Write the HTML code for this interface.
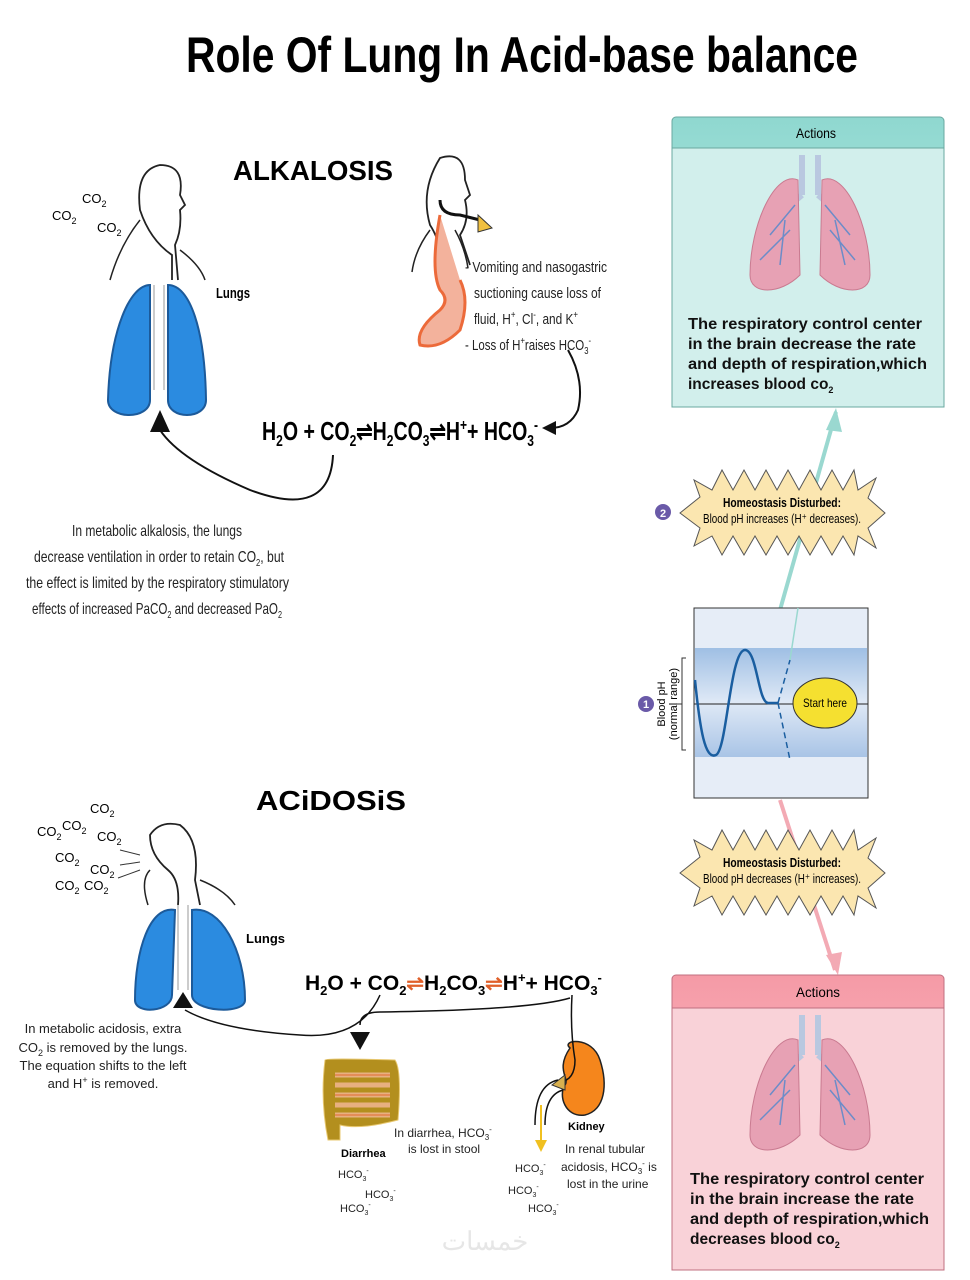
<!DOCTYPE html>
<html><head><meta charset="utf-8"><style>
html,body{margin:0;padding:0;background:#fff}
svg{display:block}
</style></head><body>
<svg width="970" height="1280" viewBox="0 0 970 1280" xmlns="http://www.w3.org/2000/svg" font-family="Liberation Sans, sans-serif">
<defs>
<linearGradient id="band" x1="0" y1="0" x2="0" y2="1"><stop offset="0" stop-color="#9fbfe4"/><stop offset="0.5" stop-color="#dfe9f6"/><stop offset="1" stop-color="#a9c4e6"/></linearGradient>
<linearGradient id="tl" x1="0" y1="0" x2="0" y2="1"><stop offset="0" stop-color="#8fd8d0"/><stop offset="1" stop-color="#c9ede9"/></linearGradient>
<linearGradient id="pk" x1="0" y1="0" x2="0" y2="1"><stop offset="0" stop-color="#f59aa6"/><stop offset="1" stop-color="#fbd4da"/></linearGradient>
<g id="plung">
<path d="M-8,-60 L-8,-20 M8,-60 L8,-20 M-8,-20 Q-20,-10 -30,0 M8,-20 Q20,-10 30,0" stroke="#b9c8e0" stroke-width="6" fill="none"/>
<path d="M-12,-35 C-35,-45 -60,10 -60,60 C-60,80 -30,80 -10,60 Z" fill="#e7a1b4" stroke="#c97a90"/>
<path d="M12,-35 C35,-45 60,10 60,60 C60,80 30,80 10,60 Z" fill="#e7a1b4" stroke="#c97a90"/>
<path d="M-15,-10 L-40,20 M-25,5 L-30,50 M15,-10 L40,20 M25,5 L35,50 M-20,15 L-50,45 M20,15 L45,45" stroke="#6c8cc8" stroke-width="1.5" fill="none"/>
</g>
</defs>

<text x="522" y="72" text-anchor="middle" font-size="50" font-weight="bold" textLength="672" lengthAdjust="spacingAndGlyphs">Role Of Lung In Acid-base balance</text>

<text x="233" y="180" font-size="28" font-weight="bold" textLength="160" lengthAdjust="spacingAndGlyphs">ALKALOSIS</text>
<path d="M172,280 L172,255 Q150,240 140,210 Q135,170 160,165 Q185,165 180,195 L185,205 L180,210 Q182,230 175,245 L178,280" fill="none" stroke="#222" stroke-width="1.8"/>
<path d="M140,220 Q120,245 110,280 M180,250 Q200,265 205,280" fill="none" stroke="#222" stroke-width="1.5"/>
<g font-size="13"><text x="82" y="203">CO<tspan font-size="9" dy="4">2</tspan></text><text x="52" y="220">CO<tspan font-size="9" dy="4">2</tspan></text><text x="97" y="232">CO<tspan font-size="9" dy="4">2</tspan></text></g>
<path d="M150,285 C130,285 110,330 108,400 C108,420 150,420 150,400 Z" fill="#2b8be0" stroke="#1c5a9a" stroke-width="2"/>
<path d="M168,285 C190,285 205,330 206,400 C206,420 168,420 168,400 Z" fill="#2b8be0" stroke="#1c5a9a" stroke-width="2"/>
<path d="M154,285 L154,390 M164,285 L164,390" stroke="#ccc" stroke-width="2"/>
<text x="216" y="298" font-size="15" font-weight="bold" textLength="34" lengthAdjust="spacingAndGlyphs">Lungs</text>
<path d="M333,455 Q330,520 250,490 Q180,460 160,430" fill="none" stroke="#111" stroke-width="2"/>
<polygon points="160,410 150,432 170,432" fill="#111"/>
<path d="M445,270 Q440,240 430,225 Q420,190 440,158 Q465,150 465,180 L470,195 L465,200 Q470,220 460,235 L470,265" fill="none" stroke="#222" stroke-width="1.8"/>
<path d="M430,230 Q415,250 412,272 M455,230 Q465,248 468,268" fill="none" stroke="#222" stroke-width="1.5"/>
<path d="M440,200 Q440,215 460,215 L480,220" fill="none" stroke="#111" stroke-width="3"/>
<polygon points="478,215 492,228 478,232" fill="#f0c040" stroke="#333"/>
<path d="M440,215 Q430,270 440,290 Q450,300 440,310 Q415,330 420,345 Q440,350 460,330 Q470,300 460,280" fill="#f3b29c" stroke="#ec6a3a" stroke-width="3"/>
<g font-size="15" fill="#222" lengthAdjust="spacingAndGlyphs">
<text x="465" y="272" textLength="142" lengthAdjust="spacingAndGlyphs">- Vomiting and nasogastric</text>
<text x="474" y="298" textLength="127" lengthAdjust="spacingAndGlyphs">suctioning cause loss of</text>
<text x="474" y="324" textLength="104" lengthAdjust="spacingAndGlyphs">fluid, H<tspan font-size="10" dy="-6">+</tspan><tspan dy="6">, Cl</tspan><tspan font-size="10" dy="-6">-</tspan><tspan dy="6">, and K</tspan><tspan font-size="10" dy="-6">+</tspan></text>
<text x="465" y="350" textLength="126" lengthAdjust="spacingAndGlyphs">- Loss of H<tspan font-size="10" dy="-6">+</tspan><tspan dy="6">raises HCO</tspan><tspan font-size="10" dy="4">3</tspan><tspan font-size="10" dy="-10">-</tspan></text>
</g>
<path d="M568,350 Q585,380 578,410 Q570,428 550,428" fill="none" stroke="#111" stroke-width="2"/>
<polygon points="542,428 556,421 556,435" fill="#111"/>
<text x="262" y="440" font-size="26" font-weight="bold" textLength="276" lengthAdjust="spacingAndGlyphs">H<tspan font-size="16" dy="6">2</tspan><tspan dy="-6">O + CO</tspan><tspan font-size="16" dy="6">2</tspan><tspan dy="-6">⇌H</tspan><tspan font-size="16" dy="6">2</tspan><tspan dy="-6">CO</tspan><tspan font-size="16" dy="6">3</tspan><tspan dy="-6">⇌H</tspan><tspan font-size="16" dy="-10">+</tspan><tspan dy="10">+ HCO</tspan><tspan font-size="16" dy="6">3</tspan><tspan font-size="16" dy="-16">-</tspan></text>
<g font-size="16" fill="#222">
<text x="72" y="536" textLength="170" lengthAdjust="spacingAndGlyphs">In metabolic alkalosis, the lungs</text>
<text x="34" y="562" textLength="250" lengthAdjust="spacingAndGlyphs">decrease ventilation in order to retain CO<tspan font-size="10" dy="4">2</tspan><tspan dy="-4">, but</tspan></text>
<text x="26" y="588" textLength="263" lengthAdjust="spacingAndGlyphs">the effect is limited by the respiratory stimulatory</text>
<text x="32" y="614" textLength="250" lengthAdjust="spacingAndGlyphs">effects of increased PaCO<tspan font-size="10" dy="4">2</tspan><tspan dy="-4"> and decreased PaO</tspan><tspan font-size="10" dy="4">2</tspan></text>
</g>

<text x="256" y="810" font-size="28" font-weight="bold" textLength="150" lengthAdjust="spacingAndGlyphs">ACiDOSiS</text>
<g font-size="13"><text x="90" y="813">CO<tspan font-size="9" dy="4">2</tspan></text><text x="37" y="836">CO<tspan font-size="9" dy="4">2</tspan></text><text x="62" y="830">CO<tspan font-size="9" dy="4">2</tspan></text><text x="97" y="841">CO<tspan font-size="9" dy="4">2</tspan></text><text x="55" y="862">CO<tspan font-size="9" dy="4">2</tspan></text><text x="90" y="874">CO<tspan font-size="9" dy="4">2</tspan></text><text x="55" y="890">CO<tspan font-size="9" dy="4">2</tspan></text><text x="84" y="890">CO<tspan font-size="9" dy="4">2</tspan></text></g>
<path d="M120,850 L140,855 M120,865 L140,862 M118,878 L140,870" stroke="#333" stroke-width="1"/>
<path d="M178,905 Q180,880 168,870 Q150,855 150,835 Q160,820 180,825 Q200,840 195,880 L200,905" fill="none" stroke="#222" stroke-width="1.8"/>
<path d="M148,905 Q140,880 150,870 M200,880 Q225,890 235,905" fill="none" stroke="#222" stroke-width="1.5"/>
<path d="M175,910 C150,905 135,950 135,1000 C135,1015 172,1012 172,995 Z" fill="#2b8be0" stroke="#1c5a9a" stroke-width="2"/>
<path d="M192,910 C220,905 245,950 245,1000 C245,1015 192,1012 192,995 Z" fill="#2b8be0" stroke="#1c5a9a" stroke-width="2"/>
<path d="M178,905 L178,990 M188,905 L188,990" stroke="#ccc" stroke-width="2"/>
<text x="246" y="943" font-size="13" font-weight="bold">Lungs</text>
<path d="M380,995 Q360,1040 300,1035 Q220,1030 185,1010" fill="none" stroke="#111" stroke-width="1.5"/>
<polygon points="183,992 173,1008 193,1008" fill="#111"/>
<g font-size="13" fill="#222" text-anchor="middle">
<text x="103" y="1033">In metabolic acidosis, extra</text>
<text x="103" y="1052">CO<tspan font-size="9" dy="4">2</tspan><tspan dy="-4"> is removed by the lungs.</tspan></text>
<text x="103" y="1070">The equation shifts to the left</text>
<text x="103" y="1088">and H<tspan font-size="9" dy="-5">+</tspan><tspan dy="5"> is removed.</tspan></text>
</g>
<text x="305" y="990" font-size="21" font-weight="bold">H<tspan font-size="13" dy="5">2</tspan><tspan dy="-5">O + CO</tspan><tspan font-size="13" dy="5">2</tspan><tspan dy="-5" fill="#e0602a">⇌</tspan><tspan>H</tspan><tspan font-size="13" dy="5">2</tspan><tspan dy="-5">CO</tspan><tspan font-size="13" dy="5">3</tspan><tspan dy="-5" fill="#e0602a">⇌</tspan><tspan>H</tspan><tspan font-size="13" dy="-8">+</tspan><tspan dy="8">+ HCO</tspan><tspan font-size="13" dy="5">3</tspan><tspan font-size="13" dy="-13">-</tspan></text>
<path d="M570,998 Q530,1010 380,1012 Q360,1012 360,1025" fill="none" stroke="#111" stroke-width="1.5"/>
<polygon points="350,1032 370,1032 360,1050" fill="#111"/>
<path d="M325,1060 Q325,1058 395,1060 Q402,1070 398,1120 Q360,1130 340,1125 L340,1140 L328,1140 Q320,1100 325,1060Z" fill="#b38f1e" stroke="#e8c870"/>
<path d="M335,1075 H390 M335,1085 H390 M335,1095 H390 M335,1105 H390 M335,1115 H390" stroke="#e8b080" stroke-width="5"/>
<path d="M335,1075 H390 M335,1095 H390 M335,1115 H390" stroke="#e06a30" stroke-width="1"/>
<text x="341" y="1157" font-size="11" font-weight="bold">Diarrhea</text>
<g font-size="12" fill="#222"><text x="394" y="1137">In diarrhea, HCO<tspan font-size="8" dy="3">3</tspan><tspan font-size="8" dy="-8">-</tspan></text><text x="408" y="1153">is lost in stool</text></g>
<g font-size="11" fill="#222"><text x="338" y="1178">HCO<tspan font-size="7" dy="3">3</tspan><tspan font-size="7" dy="-8">-</tspan></text><text x="365" y="1198">HCO<tspan font-size="7" dy="3">3</tspan><tspan font-size="7" dy="-8">-</tspan></text><text x="340" y="1212">HCO<tspan font-size="7" dy="3">3</tspan><tspan font-size="7" dy="-8">-</tspan></text>
<text x="515" y="1172">HCO<tspan font-size="7" dy="3">3</tspan><tspan font-size="7" dy="-8">-</tspan></text><text x="508" y="1194">HCO<tspan font-size="7" dy="3">3</tspan><tspan font-size="7" dy="-8">-</tspan></text><text x="528" y="1212">HCO<tspan font-size="7" dy="3">3</tspan><tspan font-size="7" dy="-8">-</tspan></text></g>
<path d="M570,1048 C560,1040 592,1035 600,1060 C608,1085 605,1110 585,1115 C565,1118 558,1095 565,1085 C570,1078 555,1070 570,1048Z" fill="#f5861c" stroke="#222" stroke-width="1.5"/>
<path d="M572,995 Q570,1030 575,1060 Q575,1080 560,1082" fill="none" stroke="#111" stroke-width="1.5"/>
<polygon points="552,1085 565,1075 565,1090" fill="#d8b050" stroke="#333"/>
<path d="M558,1080 Q535,1085 535,1125 M563,1090 Q545,1095 545,1125" fill="none" stroke="#111" stroke-width="1.5"/>
<path d="M541,1105 V1140" stroke="#f0c020" stroke-width="2"/><polygon points="535,1140 547,1140 541,1152" fill="#f0c020"/>
<text x="568" y="1130" font-size="11" font-weight="bold">Kidney</text>
<g font-size="12" fill="#222"><text x="565" y="1153">In renal tubular</text><text x="561" y="1171">acidosis, HCO<tspan font-size="8" dy="3">3</tspan><tspan font-size="8" dy="-8">-</tspan><tspan dy="5"> is</tspan></text><text x="567" y="1188">lost in the urine</text></g>
<text x="485" y="1250" font-size="26" fill="#e6e6e6" text-anchor="middle">خمسات</text>

<rect x="672" y="117" width="272" height="290" rx="4" fill="url(#tl)" stroke="#6aa8a0"/>
<rect x="672" y="148" width="272" height="259" fill="#d2efec" stroke="#6aa8a0"/>
<text x="816" y="138" font-size="14" text-anchor="middle" textLength="40" lengthAdjust="spacingAndGlyphs">Actions</text>
<g transform="translate(810,215)"><use href="#plung"/></g>
<g font-size="15.5" font-weight="bold" fill="#111"><text x="688" y="329" textLength="234" lengthAdjust="spacingAndGlyphs">The respiratory control center</text><text x="688" y="349" textLength="228" lengthAdjust="spacingAndGlyphs">in the brain decrease the rate</text><text x="688" y="369" textLength="239" lengthAdjust="spacingAndGlyphs">and depth of respiration,which</text><text x="688" y="389">increases  blood co<tspan font-size="9" dy="4">2</tspan></text></g>
<path d="M836,412 L780,610" stroke="#9ad8d0" stroke-width="4"/>
<polygon points="836,408 826,430 842,432" fill="#9ad8d0"/>
<path d="M780,800 L835,970" stroke="#f3aab4" stroke-width="4"/>
<polygon points="838,975 826,955 842,952" fill="#f3aab4"/>
<polygon id="sb" fill="#fbe6b0" stroke="#555" stroke-width="1" points="680,513 700,497 694,480 712,490 722,470 733,490 744,470 755,490 766,470 777,490 788,470 799,490 810,470 821,490 832,470 843,490 854,470 858,490 876,478 868,498 885,513 868,528 876,548 858,536 854,555 843,536 832,555 821,536 810,555 799,536 788,555 777,536 766,555 755,536 744,555 733,536 722,555 712,536 694,546 700,528"/>
<text x="782" y="507" font-size="13" text-anchor="middle" font-weight="bold" textLength="118" lengthAdjust="spacingAndGlyphs">Homeostasis Disturbed:</text>
<text x="782" y="523" font-size="13" text-anchor="middle" textLength="158" lengthAdjust="spacingAndGlyphs">Blood pH increases (H⁺ decreases).</text>
<circle cx="663" cy="512" r="8" fill="#6a5aa8"/><text x="663" y="517" font-size="11" fill="#fff" text-anchor="middle" font-weight="bold">2</text>
<rect x="694" y="608" width="174" height="190" fill="#e6edf7" stroke="#333"/>
<rect x="695" y="648" width="172" height="109" fill="url(#band)"/>
<line x1="694" y1="704" x2="868" y2="704" stroke="#222"/>
<path d="M695,680 C700,730 705,760 716,755 C727,750 730,650 745,650 C757,650 758,702 768,703 L778,703" fill="none" stroke="#1a5ea0" stroke-width="2.5"/>
<path d="M778,703 L790,660 M778,703 L790,760" stroke="#1a5ea0" stroke-width="1.5" stroke-dasharray="6,4"/>
<path d="M790,660 L798,608" stroke="#9ad8d0" stroke-width="1.5"/>
<ellipse cx="825" cy="703" rx="32" ry="25" fill="#f5e030" stroke="#333"/>
<text x="825" y="707" font-size="12" text-anchor="middle" textLength="44" lengthAdjust="spacingAndGlyphs">Start here</text>
<path d="M686,658 H682 V750 H686 M682,704 H676" fill="none" stroke="#333"/>
<text transform="translate(665,704) rotate(-90)" font-size="11" text-anchor="middle">Blood pH</text>
<text transform="translate(677,704) rotate(-90)" font-size="11" text-anchor="middle">(normal range)</text>
<circle cx="646" cy="704" r="8" fill="#6a5aa8"/><text x="646" y="708" font-size="11" fill="#fff" text-anchor="middle" font-weight="bold">1</text>
<use href="#sb" transform="translate(0,360)"/>
<text x="782" y="867" font-size="13" text-anchor="middle" font-weight="bold" textLength="118" lengthAdjust="spacingAndGlyphs">Homeostasis Disturbed:</text>
<text x="782" y="883" font-size="13" text-anchor="middle" textLength="158" lengthAdjust="spacingAndGlyphs">Blood pH decreases (H⁺ increases).</text>
<rect x="672" y="975" width="272" height="295" rx="4" fill="url(#pk)" stroke="#c07080"/>
<rect x="672" y="1008" width="272" height="262" fill="#f9d2d8" stroke="#c07080"/>
<text x="818" y="997" font-size="14" text-anchor="middle" textLength="44" lengthAdjust="spacingAndGlyphs">Actions</text>
<g transform="translate(810,1075)"><use href="#plung"/></g>
<g font-size="15.5" font-weight="bold" fill="#111"><text x="690" y="1184" textLength="234" lengthAdjust="spacingAndGlyphs">The respiratory control center</text><text x="690" y="1204" textLength="224" lengthAdjust="spacingAndGlyphs">in the brain increase the rate</text><text x="690" y="1224" textLength="239" lengthAdjust="spacingAndGlyphs">and depth of respiration,which</text><text x="690" y="1244">decreases  blood co<tspan font-size="9" dy="4">2</tspan></text></g>
</svg>
</body></html>
